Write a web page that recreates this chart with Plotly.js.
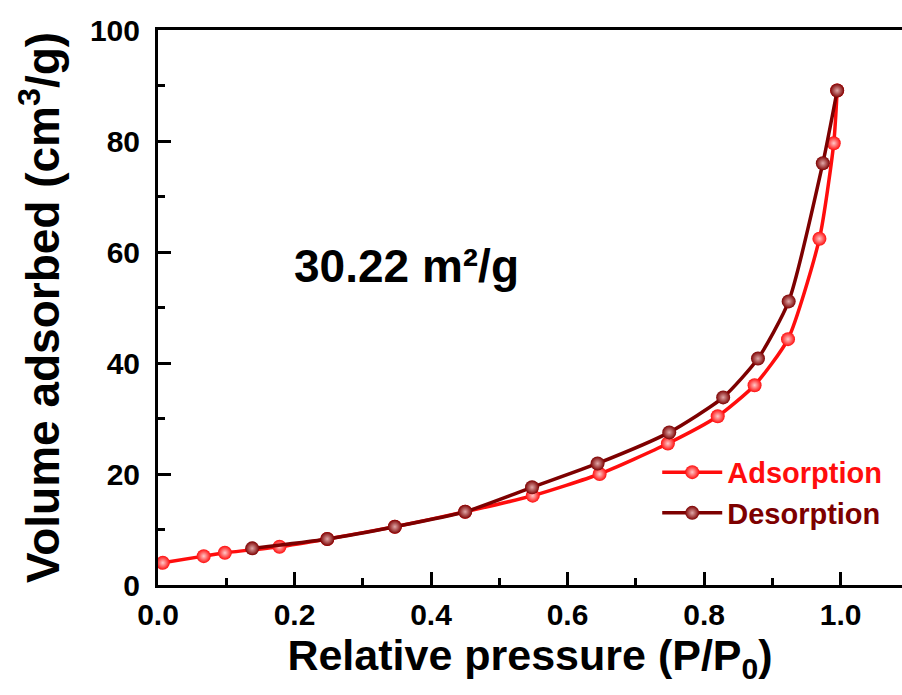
<!DOCTYPE html>
<html>
<head>
<meta charset="utf-8">
<script src="https://cdn.plot.ly/plotly-3.0.1.min.js"></script>
<style>html,body{margin:0;padding:0;background:#fff;overflow:hidden}#chart{width:902px;height:695px}</style>
</head>
<body>
<div id="chart"></div>
<script>
// Data
const adsorptionP = [0.007, 0.067, 0.098, 0.178, 0.248, 0.347, 0.450, 0.549, 0.647, 0.747, 0.820, 0.874, 0.923, 0.969, 0.990, 0.995];
const adsorptionV = [4.0, 5.2, 5.8, 6.9, 8.3, 10.5, 13.2, 16.1, 20.0, 25.5, 30.4, 36.0, 44.3, 62.4, 79.6, 89.1];
const desorptionP = [0.138, 0.248, 0.347, 0.450, 0.548, 0.644, 0.749, 0.828, 0.879, 0.924, 0.974, 0.995];
const desorptionV = [6.6, 8.3, 10.5, 13.2, 17.6, 21.9, 27.5, 33.8, 40.8, 51.1, 76.0, 89.1];
const seriesNames = ['Adsorption', 'Desorption'];
const xTickVals = [0, 0.2, 0.4, 0.6, 0.8, 1.0];
const xTickText = ['0.0', '0.2', '0.4', '0.6', '0.8', '1.0'];
const yTickVals = [0, 20, 40, 60, 80, 100];
const surfaceArea = '30.22 m²/g';

const FONT = 'Arial, "Liberation Sans", sans-serif';
const RED = '#ff0d0d';
const DARK = '#7d0000';

const traces = [
  {
    x: adsorptionP, y: adsorptionV, name: '<span style="color:' + RED + '">' + seriesNames[0] + '</span>',
    type: 'scatter', mode: 'lines+markers',
    line: {color: RED, width: 3.5, shape: 'spline', smoothing: 0.6},
    marker: {size: 14, color: RED, gradient: {type: 'radial', color: '#ffc8c8'}, line: {width: 0}}
  },
  {
    x: desorptionP, y: desorptionV, name: '<span style="color:' + DARK + '">' + seriesNames[1] + '</span>',
    type: 'scatter', mode: 'lines+markers',
    line: {color: DARK, width: 3.5, shape: 'spline', smoothing: 0.6},
    marker: {size: 14, color: DARK, gradient: {type: 'radial', color: '#e0a8a8'}, line: {width: 0}}
  }
];

const layout = {
  width: 902, height: 695,
  margin: {l: 158, r: 0, t: 30, b: 110},
  paper_bgcolor: '#ffffff', plot_bgcolor: '#ffffff',
  font: {family: FONT, color: '#000', weight: 'bold'},
  showlegend: true,
  legend: {
    x: 0.671, y: 0.249, xanchor: 'left', yanchor: 'top',
    bgcolor: 'rgba(0,0,0,0)', borderwidth: 0,
    font: {family: FONT, size: 29, weight: 'bold'},
    itemwidth: 60, tracegroupgap: 0
  },
  xaxis: {
    range: [0, 1.09], showgrid: false, zeroline: false,
    showline: true, linewidth: 3, linecolor: '#000', mirror: true,
    ticks: 'inside', ticklen: 13, tickwidth: 3, tickcolor: '#000',
    tickvals: xTickVals, ticktext: xTickText,
    minor: {ticks: 'inside', ticklen: 7, tickwidth: 3, tickcolor: '#000', dtick: 0.1, tick0: 0},
    tickfont: {family: FONT, size: 30, weight: 'bold', color: '#000'},
    ticklabelstandoff: 1,
    title: {text: 'Relative pressure (P/P<sub>0</sub>)', font: {family: FONT, size: 43, weight: 'bold', color: '#000'}, standoff: 4}
  },
  yaxis: {
    range: [0, 100], showgrid: false, zeroline: false,
    showline: true, linewidth: 3, linecolor: '#000', mirror: false,
    ticks: 'inside', ticklen: 13, tickwidth: 3, tickcolor: '#000',
    tickvals: yTickVals,
    minor: {ticks: 'inside', ticklen: 7, tickwidth: 3, tickcolor: '#000', dtick: 10, tick0: 0},
    tickfont: {family: FONT, size: 30, weight: 'bold', color: '#000'},
    ticklabelstandoff: 9,
    title: {text: 'Volume adsorbed (cm<sup>3</sup>/g)', font: {family: FONT, size: 46, weight: 'bold', color: '#000'}, standoff: 16}
  },
  annotations: [{
    x: 0.196, y: 57.5, xref: 'x', yref: 'y', xanchor: 'left', yanchor: 'middle',
    text: surfaceArea, showarrow: false,
    font: {family: FONT, size: 46, weight: 'bold', color: '#000'}
  }]
};

Plotly.newPlot('chart', traces, layout, {displayModeBar: false, staticPlot: true});
</script>
</body>
</html>
